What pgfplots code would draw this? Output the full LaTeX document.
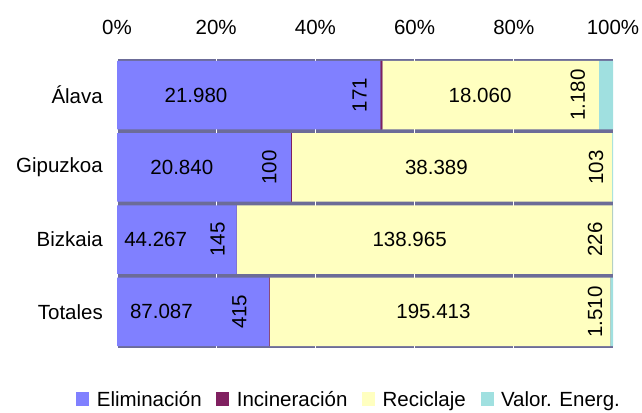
\documentclass[border=0pt]{standalone}
\usepackage{pgfplots}
\pgfplotsset{compat=1.18}
\usepackage{pgfplotstable}
\usepackage{fontspec}
\setmainfont{Liberation Sans}
\newcommand\cf{\fontsize{20.5}{24}\selectfont}
\definecolor{cElim}{HTML}{8080FF}
\definecolor{cInc}{HTML}{802060}
\definecolor{cRec}{HTML}{FFFFC0}
\definecolor{cVal}{HTML}{A0E0E0}
\definecolor{cBand}{HTML}{6C6C98}

% shares in percent (raw values: see label tables)
\pgfplotstableread{
y elim   inc   rec    val
3 53.103 0.413 43.633 2.851
2 35.065 0.168 64.593 0.173
1 24.110 0.079 75.688 0.123
0 30.619 0.146 68.705 0.531
}\pct

\pgfplotstableread{
lx    y lab
15.92 3 21.980
73.2  3 18.060
13.07 2 20.840
64.4  2 38.389
7.8   1 44.267
59.0  1 138.965
8.95  0 87.087
63.8  0 195.413
}\hlab

\pgfplotstableread{
lx    y lab
48.9  3 171
92.9  3 1.180
30.7  2 100
96.6  2 103
20.3  1 145
96.4  1 226
24.7  0 415
96.4  0 1.510
}\vlab

\begin{document}
\begin{tikzpicture}
\useasboundingbox (0,0) rectangle (642pt,412pt);
\begin{axis}[
  at={(117pt,64pt)}, anchor=south west,
  scale only axis, width=496pt, height=289pt,
  xbar stacked, bar width=0.946,
  xmin=0, xmax=100, ymin=-0.5, ymax=3.5,
  axis line style={draw=none},
  axis background/.style={fill=cBand},
  xtick={0,20,40,60,80,100},
  xticklabels={0\%,20\%,40\%,60\%,80\%,100\%},
  xticklabel pos=upper,
  ytick={0,1,2,3},
  yticklabels={Totales,Bizkaia,Gipuzkoa,Álava},
  major tick length=0pt,
  tick style={draw=none},
  xmajorgrids,
  major grid style={white, line width=1pt},
  tick label style={font=\cf, text=black},
  xticklabel style={inner sep=0pt, anchor=base, yshift=24.6pt},
  yticklabel style={inner sep=0pt, anchor=east, xshift=-14pt},
  legend style={at={(axis description cs:0.466,-0.18)}, anchor=center,
    draw=none, fill=none, font=\cf, inner sep=0pt,
    nodes={inner xsep=0pt, inner ysep=2pt},
    /tikz/every odd column/.append style={column sep=7.5pt},
    /tikz/every even column/.append style={column sep=14.7pt}},
  legend columns=4,
  legend cell align=left,
  legend image code/.code={\fill[#1] (0pt,-5.5pt) rectangle (13pt,8pt);},
]
\addplot[fill=cElim, draw=none] table[x=elim, y=y]{\pct};
\addplot[fill=cInc, draw=none] table[x=inc, y=y]{\pct};
\addplot[fill=cRec, draw=none] table[x=rec, y=y]{\pct};
\addplot[fill=cVal, draw=none] table[x=val, y=y]{\pct};
\legend{Eliminación, Incineración, Reciclaje, Valor. Energ.}
\end{axis}
\begin{axis}[
  at={(117pt,64pt)}, anchor=south west,
  scale only axis, width=496pt, height=289pt,
  xmin=0, xmax=100, ymin=-0.5, ymax=3.5,
  hide axis, clip=false,
]
\addplot[only marks, mark=*, mark size=0pt, draw=none, fill=none,
  nodes near coords, point meta=explicit symbolic,
  every node near coord/.append style={anchor=center, font=\cf, text=black}]
  table[x=lx, y=y, meta=lab]{\hlab};
\addplot[only marks, mark=*, mark size=0pt, draw=none, fill=none,
  nodes near coords, point meta=explicit symbolic,
  every node near coord/.append style={anchor=center, rotate=90, font=\cf, text=black}]
  table[x=lx, y=y, meta=lab]{\vlab};
\end{axis}
\end{tikzpicture}
\end{document}
